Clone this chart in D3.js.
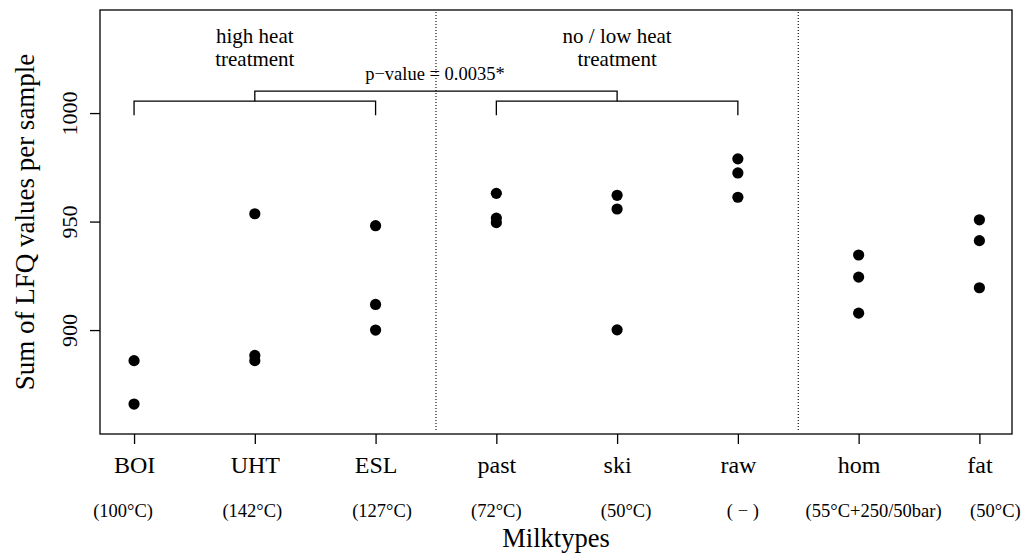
<!DOCTYPE html>
<html>
<head>
<meta charset="utf-8">
<script src="https://cdn.jsdelivr.net/npm/d3@7"></script>
<style>
  html, body { margin: 0; padding: 0; background: #fff; }
  svg { display: block; font-family: "Liberation Serif", "DejaVu Serif", serif; }
</style>
</head>
<body>
<svg id="chart" width="1026" height="557"></svg>
<script>
// ---- data ----
const categories = ["BOI", "UHT", "ESL", "past", "ski", "raw", "hom", "fat"];
const treatments = ["(100°C)", "(142°C)", "(127°C)", "(72°C)", "(50°C)", "( − )", "(55°C+250/50bar)", "(50°C)"];
const treatmentShift = [-11, -2.5, 6.5, 0, 9, 5, 15, 16];
const sampleValues = [
  [885.9, 865.9],
  [953.6, 888.3, 885.9],
  [948.1, 911.8, 900.0],
  [963.0, 951.6, 949.5],
  [962.1, 955.8, 900.1],
  [978.9, 972.4, 961.2],
  [934.6, 924.4, 907.8],
  [950.8, 941.2, 919.5]
];
const yTicks = [900, 950, 1000];
const groupLabels = [
  { lines: ["high heat", "treatment"], at: 2 },
  { lines: ["no / low heat", "treatment"], at: 5 }
];
const separators = [3.5, 6.5];
const pLabel = "p\u2212value = 0.0035*";
const xTitle = "Milktypes";
const yTitle = "Sum of LFQ values per sample";

// ---- layout ----
const svg = d3.select("#chart");
const plot = { left: 100, right: 1012, top: 10, bottom: 434 };

const x = d3.scaleLinear().domain([0.718, 8.27]).range([plot.left, plot.right]);
const y = d3.scaleLinear().domain([852.1, 1047.5]).range([plot.bottom, plot.top]);

// box
svg.append("rect")
  .attr("x", plot.left).attr("y", plot.top)
  .attr("width", plot.right - plot.left).attr("height", plot.bottom - plot.top)
  .attr("fill", "none").attr("stroke", "#000").attr("stroke-width", 1.3);

// separators
svg.selectAll("line.sep").data(separators).join("line")
  .attr("class", "sep")
  .attr("x1", d => x(d)).attr("x2", d => x(d))
  .attr("y1", plot.top + 2).attr("y2", plot.bottom - 2)
  .attr("stroke", "#000").attr("stroke-width", 1.1)
  .attr("stroke-dasharray", "1,2");

// y axis
const yAxis = d3.axisLeft(y).tickValues(yTicks).tickSize(10).tickPadding(4).tickFormat(d3.format("d"));
const gy = svg.append("g").attr("transform", `translate(${plot.left},0)`).call(yAxis);
gy.select(".domain").remove();
gy.selectAll(".tick line").attr("stroke-width", 1.3);
gy.selectAll(".tick text")
  .attr("font-size", 22).attr("font-family", "Liberation Serif").attr("fill", "#000")
  .attr("text-anchor", "middle").attr("dy", null)
  .attr("x", null)
  .attr("transform", "translate(-31,0) rotate(-90)")
  .attr("dominant-baseline", "central");

// x axis
const xAxis = d3.axisBottom(x).tickValues(d3.range(1, categories.length + 1))
  .tickSize(10).tickFormat(d => categories[d - 1]).tickPadding(12);
const gx = svg.append("g").attr("transform", `translate(0,${plot.bottom})`).call(xAxis);
gx.select(".domain").remove();
gx.selectAll(".tick line").attr("stroke-width", 1.3);
gx.selectAll(".tick text")
  .attr("font-size", 24).attr("font-family", "Liberation Serif").attr("fill", "#000");

// treatment sub-labels
svg.selectAll("text.treat").data(treatments).join("text")
  .attr("class", "treat")
  .attr("x", (d, i) => x(i + 1) + treatmentShift[i])
  .attr("y", 517)
  .attr("text-anchor", "middle")
  .attr("font-size", 18.5)
  .text(d => d);

// axis titles
svg.append("text").attr("x", (plot.left + plot.right) / 2).attr("y", 547)
  .attr("text-anchor", "middle").attr("font-size", 26.5).text(xTitle);
svg.append("text")
  .attr("transform", `translate(34,${(plot.top + plot.bottom) / 2}) rotate(-90)`)
  .attr("text-anchor", "middle").attr("font-size", 27).text(yTitle);

// points
const pts = sampleValues.flatMap((vals, i) => vals.map(v => ({ i: i + 1, v })));
svg.selectAll("circle.pt").data(pts).join("circle")
  .attr("class", "pt")
  .attr("cx", d => x(d.i)).attr("cy", d => y(d.v))
  .attr("r", 5.6).attr("fill", "#000");

// brackets
const bracketLow = 999, bracketMid = 1005.5, bracketTop = 1010.1;
const brackets = [[1, 3], [4, 6]];
const bg = svg.append("g").attr("fill", "none").attr("stroke", "#000").attr("stroke-width", 1.3);
brackets.forEach(([a, b]) => {
  bg.append("path").attr("d",
    `M${x(a)},${y(bracketLow)}V${y(bracketMid)}H${x(b)}V${y(bracketLow)}`);
});
const c1 = (brackets[0][0] + brackets[0][1]) / 2, c2 = (brackets[1][0] + brackets[1][1]) / 2;
bg.append("path").attr("d",
  `M${x(c1)},${y(bracketMid)}V${y(bracketTop)}H${x(c2)}V${y(bracketMid)}`);

// p-value
svg.append("text").attr("x", x((c1 + c2) / 2) - 1).attr("y", 80)
  .attr("text-anchor", "middle").attr("font-size", 18.5).text(pLabel);

// group labels
groupLabels.forEach(g => {
  g.lines.forEach((ln, k) => {
    svg.append("text").attr("x", x(g.at)).attr("y", 43 + k * 23)
      .attr("text-anchor", "middle").attr("font-size", 21).text(ln);
  });
});
</script>
</body>
</html>
